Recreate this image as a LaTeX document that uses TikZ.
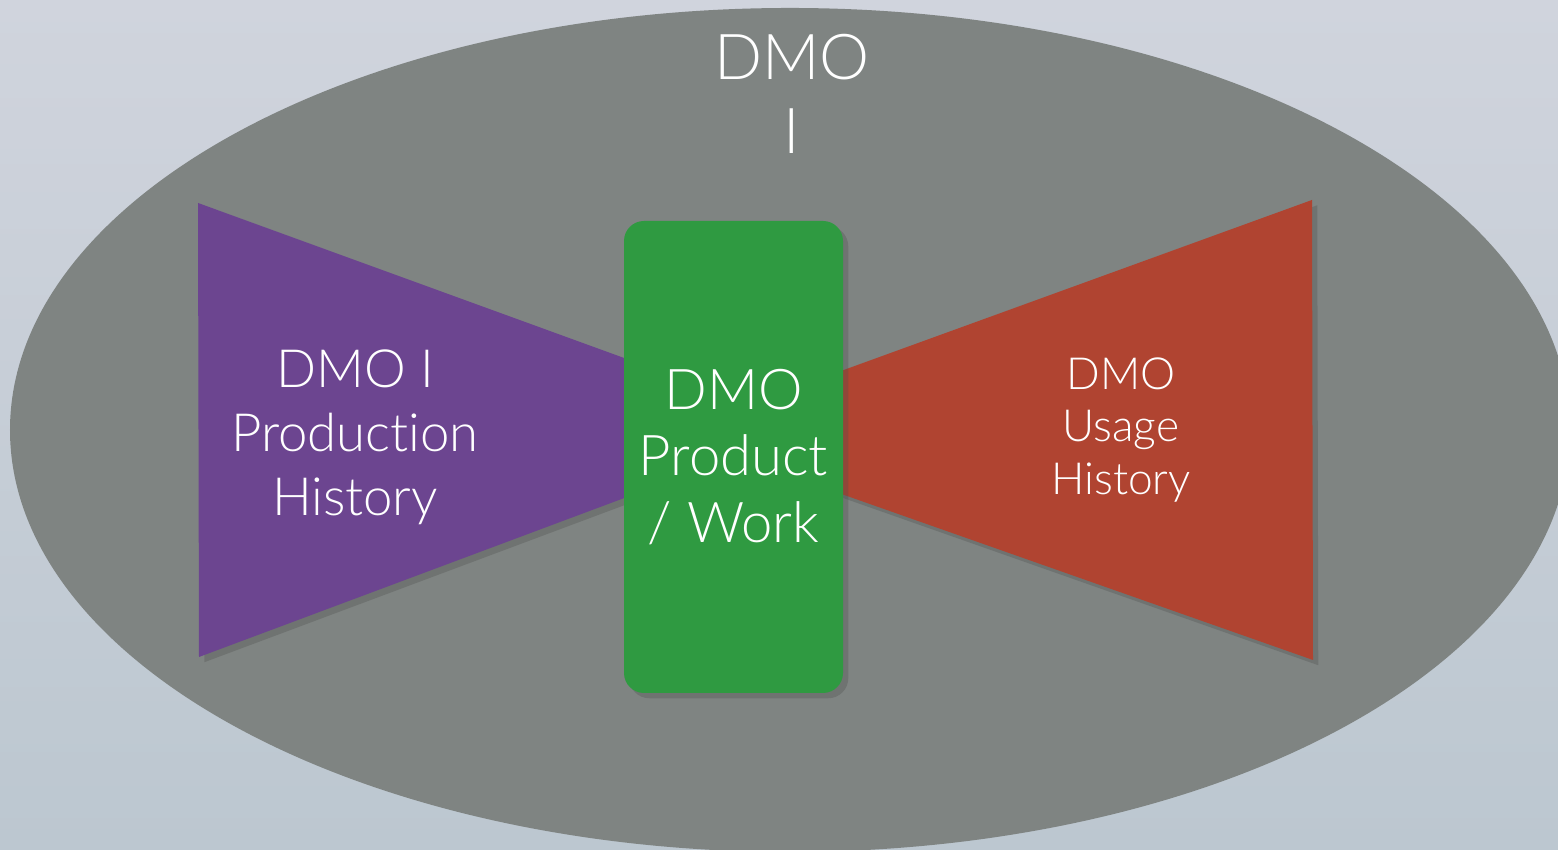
\documentclass[tikz,border=0pt]{standalone}
\usepackage{fontspec}
\setmainfont{Lato Light}[Ligatures=NoCommon]
\usetikzlibrary{shadows}
\definecolor{dmogrey}{HTML}{7F8482}
\definecolor{prodpurple}{HTML}{6C4590}
\definecolor{workgreen}{HTML}{2F9A41}
\definecolor{usagered}{HTML}{B04431}
\tikzset{
	flapshadow/.style={drop shadow={shadow xshift=1.5pt, shadow yshift=-1.5pt, opacity=.3, fill=black!70}},
	dmotext/.style={text=white, align=center, inner sep=0pt}
}

\begin{document}
\begin{tikzpicture}
		\useasboundingbox (0,0) rectangle (15.58,8.5);
		\shade[top color={rgb,255:red,208;green,212;blue,221}, bottom color={rgb,255:red,188;green,199;blue,208}] (0,0) rectangle (15.58,8.5);

		% outer DMO
		\begin{scope}
			\clip (0,0) rectangle (15.58,8.5);
			\fill[dmogrey] (7.90,4.20) ellipse [x radius=7.80cm, y radius=4.22cm];
		\end{scope}
		\node[dmotext, font={\fontsize{18}{21}\selectfont}] (outer) at (7.92,7.56) {DMO\\I};

		% production and usage
		\fill[prodpurple, flapshadow] (1.98,6.47) -- (6.35,4.88) -- (6.35,3.56) -- (1.99,1.93) -- cycle;
		\fill[usagered, flapshadow] (8.30,4.75) -- (13.12,6.50) -- (13.13,1.90) -- (8.30,3.60) -- cycle;
		\node[dmotext, font={\fontsize{15}{18.2}\selectfont}] (production) at (3.55,4.13) {DMO I\\Production\\History};
		\node[dmotext, font={\fontsize{12.6}{15}\selectfont}] (usage) at (11.21,4.20) {DMO\\Usage\\History};

		% product in the middle
		\node[dmotext, fill=workgreen, rounded corners=0.2cm, minimum width=2.19cm, minimum height=4.72cm,
			flapshadow, font={\fontsize{16}{19}\selectfont}] (work) at (7.335,3.93) {DMO\\Product\\/ Work};
	\end{tikzpicture}
\end{document}
